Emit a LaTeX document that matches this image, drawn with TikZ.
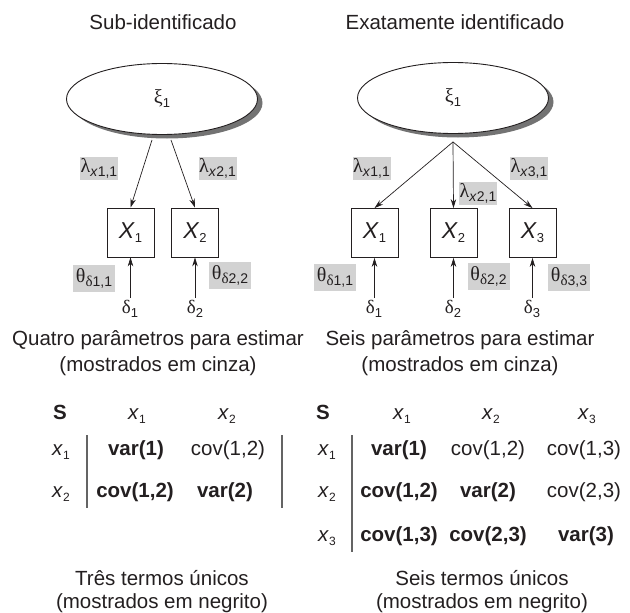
\documentclass[tikz,border=0pt]{standalone}
\usepackage{fontspec}
\setmainfont{Liberation Sans}
\newfontfamily\grk{Liberation Serif}
\usetikzlibrary{shapes.geometric,shadows,arrows.meta}
\definecolor{ink}{RGB}{35,31,32}
\definecolor{lblgray}{RGB}{210,210,210}
\definecolor{bargray}{RGB}{100,100,100}
\newcommand{\lsub}[2][13]{\raisebox{-4pt}{\fontsize{#1}{#1}\selectfont #2}}
\newcommand{\gsym}[2][19]{{\grk\fontsize{#1}{#1}\selectfont #2}}
\begin{document}
\begin{tikzpicture}[x=1pt,y=-1pt,
  every node/.style={text=ink},
  latent/.style={ellipse, draw=ink, line width=0.9pt, fill=white,
    minimum width=191pt, minimum height=71pt, inner sep=0pt,
    drop shadow={shadow xshift=5pt, shadow yshift=-4pt, fill=black!55, opacity=1}},
  obs/.style={rectangle, draw=ink, line width=0.8pt, minimum width=47pt,
    minimum height=49pt, inner sep=0pt, font=\fontsize{23}{23}\selectfont},
  lam/.style={fill=lblgray, inner sep=0pt, minimum width=38pt, minimum height=23pt},
  tht/.style={fill=lblgray, inner sep=0pt, minimum width=42pt, minimum height=27pt},
  err/.style={inner sep=2pt},
  arr/.style={draw=ink, line width=0.7pt, -{Stealth[length=9pt,width=5.5pt]}},
  ttl/.style={anchor=base, inner sep=0pt, font=\fontsize{20.5}{24}\selectfont},
  captxt/.style={anchor=base, inner sep=0pt, align=center, font=\fontsize{20.5}{26}\selectfont},
  captxtb/.style={anchor=base, inner sep=0pt, align=center, font=\fontsize{20.5}{23}\selectfont},
  mc/.style={anchor=base, inner sep=0pt, font=\fontsize{20.5}{24}\selectfont},
  mb/.style={mc, font=\fontsize{20.5}{24}\selectfont\bfseries},
  mbar/.style={draw=bargray, line width=1.5pt}
]
\useasboundingbox (0,0) rectangle (630,613);

% ---------- titles
\node[ttl] (tL) at (163,30) {Sub-identificado};
\node[ttl] (tR) at (455,30) {Exatamente identificado};

% ---------- left model
\node[latent] (L1) at (162,99) {\gsym[20]{ξ}\lsub[13]{1}};
\coordinate (La) at ([xshift=-10pt,yshift=-5pt]L1.south);
\coordinate (Lb) at ([xshift=9pt,yshift=-5pt]L1.south);
\node[obs] (LX1) at (130.5,232.5) {\textit{X}\lsub{1}};
\node[obs] (LX2) at (195,232.5) {\textit{X}\lsub{2}};
\draw[arr] (La) -- (LX1.north);
\draw[arr] (Lb) -- (LX2.north);
\node[lam] (Ll1) at (99,168.5) {\gsym[20]{λ}\lsub[14]{\textit{x}1,1}};
\node[lam] (Ll2) at (217.5,168.5) {\gsym[20]{λ}\lsub[14]{\textit{x}2,1}};
\node[tht] (Lt1) at (94,278) {\gsym[20]{θ}\lsub[14]{\gsym[15]{δ}1,1}};
\node[tht] (Lt2) at (230,275) {\gsym[20]{θ}\lsub[14]{\gsym[15]{δ}2,2}};
\node[err] (Ld1) at (130,309) {\gsym{δ}\lsub{1}};
\node[err] (Ld2) at (195,309) {\gsym{δ}\lsub{2}};
\draw[arr] (Ld1.north -| LX1.south) -- (LX1.south);
\draw[arr] (Ld2.north -| LX2.south) -- (LX2.south);

% ---------- right model
\node[latent] (R1) at (453,98) {\gsym[20]{ξ}\lsub[13]{1}};
\coordinate (Ra) at ([yshift=-8pt]R1.south);
\node[obs] (RX1) at (374.5,233) {\textit{X}\lsub{1}};
\node[obs] (RX2) at (453.5,233) {\textit{X}\lsub{2}};
\node[obs] (RX3) at (532.5,233) {\textit{X}\lsub{3}};
\draw[arr] (Ra) -- (RX1.north);
\draw[arr] (Ra) -- (RX2.north);
\draw[arr] (Ra) -- (RX3.north);
\node[lam] (Rl1) at (371.5,168.5) {\gsym[20]{λ}\lsub[14]{\textit{x}1,1}};
\node[lam] (Rl2) at (478,193.5) {\gsym[20]{λ}\lsub[14]{\textit{x}2,1}};
\node[lam] (Rl3) at (529,168.5) {\gsym[20]{λ}\lsub[14]{\textit{x}3,1}};
\node[tht] (Rt1) at (335,277) {\gsym[20]{θ}\lsub[14]{\gsym[15]{δ}1,1}};
\node[tht] (Rt2) at (488.5,276) {\gsym[20]{θ}\lsub[14]{\gsym[15]{δ}2,2}};
\node[tht] (Rt3) at (569,277) {\gsym[20]{θ}\lsub[14]{\gsym[15]{δ}3,3}};
\node[err] (Rd1) at (374,309) {\gsym{δ}\lsub{1}};
\node[err] (Rd2) at (453,309) {\gsym{δ}\lsub{2}};
\node[err] (Rd3) at (532,309) {\gsym{δ}\lsub{3}};
\draw[arr] (Rd1.north -| RX1.south) -- (RX1.south);
\draw[arr] (Rd2.north -| RX2.south) -- (RX2.south);
\draw[arr] (Rd3.north -| RX3.south) -- (RX3.south);

% ---------- captions (base = last line)
\node[captxt] (cL) at (158,371) {Quatro parâmetros para estimar\\(mostrados em cinza)};
\node[captxt] (cR) at (460,371) {Seis parâmetros para estimar\\(mostrados em cinza)};

% ---------- left matrix
\node[mb] (mLS) at (60,419) {S};
\node[mc] (mLh1) at (137,419) {\textit{x}\lsub[12]{1}};
\node[mc] (mLh2) at (227,419) {\textit{x}\lsub[12]{2}};
\node[mc] (mLr1) at (61,455) {\textit{x}\lsub[12]{1}};
\node[mc] (mLr2) at (61,497) {\textit{x}\lsub[12]{2}};
\node[mb] (mL11) at (136,455) {var(1)};
\node[mc] (mL12) at (228,455) {cov(1,2)};
\node[mb] (mL21) at (135,497) {cov(1,2)};
\node[mb] (mL22) at (225,497) {var(2)};
\draw[mbar] (87,435) -- (87,508);
\draw[mbar] (282,435) -- (282,508);

% ---------- right matrix
\node[mb] (mRS) at (323,419) {S};
\node[mc] (mRh1) at (402,419) {\textit{x}\lsub[12]{1}};
\node[mc] (mRh2) at (491,419) {\textit{x}\lsub[12]{2}};
\node[mc] (mRh3) at (587,419) {\textit{x}\lsub[12]{3}};
\node[mc] (mRr1) at (327,455) {\textit{x}\lsub[12]{1}};
\node[mc] (mRr2) at (327,497) {\textit{x}\lsub[12]{2}};
\node[mc] (mRr3) at (327,541) {\textit{x}\lsub[12]{3}};
\node[mb] (mR11) at (399,455) {var(1)};
\node[mc] (mR12) at (488,455) {cov(1,2)};
\node[mc] (mR13) at (584,455) {cov(1,3)};
\node[mb] (mR21) at (399,497) {cov(1,2)};
\node[mb] (mR22) at (488,497) {var(2)};
\node[mc] (mR23) at (584,497) {cov(2,3)};
\node[mb] (mR31) at (399,541) {cov(1,3)};
\node[mb] (mR32) at (488,541) {cov(2,3)};
\node[mb] (mR33) at (586,541) {var(3)};
\draw[mbar] (352,435) -- (352,552);

% ---------- bottom captions (base = last line)
\node[captxtb] (bL) at (162,608) {Três termos únicos\\(mostrados em negrito)};
\node[captxtb] (bR) at (482,608) {Seis termos únicos\\(mostrados em negrito)};
\end{tikzpicture}
\end{document}
